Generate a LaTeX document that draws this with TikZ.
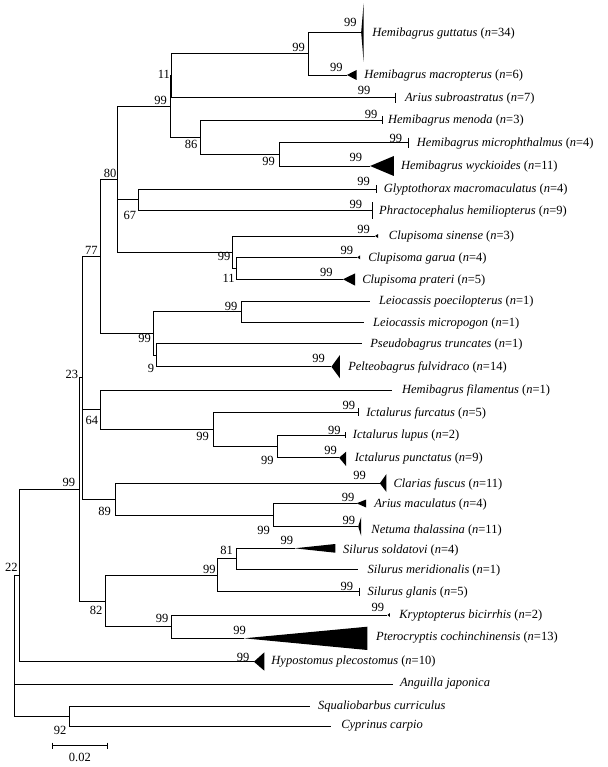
\documentclass[tikz,border=0pt]{standalone}
\usepackage{fontspec}
\setmainfont{Liberation Serif}
\begin{document}
\begin{tikzpicture}[x=0.9922pt,y=-1pt,
  br/.style={line width=0.8pt},
  sp/.style={anchor=west, inner sep=0pt, font=\fontsize{12.5}{13}\selectfont},
  bs/.style={inner sep=0pt, font=\fontsize{12.5}{13}\selectfont}]
\useasboundingbox (0pt,0pt) rectangle (607pt,-767pt);
% internal nodes
\coordinate (A) at (310.5,53.7);
\coordinate (B) at (173,75.7);
\coordinate (C) at (172,106.5);
\coordinate (E) at (202,137.2);
\coordinate (F) at (282,154.3);
\coordinate (G) at (139.5,199.8);
\coordinate (J) at (238.3,268.3);
\coordinate (I) at (234.4,252.2);
\coordinate (D) at (118.4,179.3);
\coordinate (L) at (243.4,311.8);
\coordinate (M) at (157.4,355);
\coordinate (K) at (155.1,333.4);
\coordinate (H) at (101.6,256.4);
\coordinate (W) at (279.3,446.3);
\coordinate (V) at (214.8,429.3);
\coordinate (O) at (101.6,409.7);
\coordinate (X) at (275.4,515.2);
\coordinate (R) at (116,499.2);
\coordinate (N) at (83.2,377.8);
\coordinate (Z) at (238.3,558.8);
\coordinate (Y) at (219.5,575.3);
\coordinate (AA) at (172.7,626.7);
\coordinate (Q) at (106.2,601);
\coordinate (P) at (80,489.4);
\coordinate (U) at (19.5,575.5);
\coordinate (S) at (69.5,716);
\coordinate (T) at (15,645.8);
% leaf ends
\coordinate (l1) at (364,32.3);
\coordinate (l2) at (349.5,75);
\coordinate (l3) at (398,97.7);
\coordinate (l4) at (385,120);
\coordinate (l5) at (412,142.7);
\coordinate (l6) at (373,166);
\coordinate (l7) at (379.7,189);
\coordinate (l8) at (375,210.7);
\coordinate (l9) at (378,236);
\coordinate (l10) at (360,257.3);
\coordinate (l11) at (345.7,279.3);
\coordinate (l12) at (373,301);
\coordinate (l13) at (367,322.7);
\coordinate (l14) at (365,343.3);
\coordinate (l15) at (334,366.7);
\coordinate (l16) at (395,390);
\coordinate (l17) at (361.3,412.3);
\coordinate (l18) at (347.7,435);
\coordinate (l19) at (341.8,457.7);
\coordinate (l20) at (382.8,483.3);
\coordinate (l21) at (359.4,503.3);
\coordinate (l22) at (361,526.5);
\coordinate (l23) at (296.9,548.3);
\coordinate (l24) at (361.3,569.3);
\coordinate (l25) at (362.5,591.7);
\coordinate (l26) at (390.5,615);
\coordinate (l27) at (246,638.3);
\coordinate (l28) at (255.9,661.7);
\coordinate (l29) at (396.5,684);
\coordinate (l30) at (312.5,706);
\coordinate (l31) at (334,726);
% branches
\draw[br] (A) |- (l1); \draw[br] (A) |- (l2);
\draw[br] (B) |- (A); \draw[br] (B) |- (l3);
\draw[br] (C) |- (B); \draw[br] (C) |- (E);
\draw[br] (E) |- (l4); \draw[br] (E) |- (F);
\draw[br] (F) |- (l5); \draw[br] (F) |- (l6);
\draw[br] (G) |- (l7); \draw[br] (G) |- (l8);
\draw[br] (J) |- (l10); \draw[br] (J) |- (l11);
\draw[br] (I) |- (l9); \draw[br] (I) |- (J);
\draw[br] (D) |- (C); \draw[br] (D) |- (G); \draw[br] (D) |- (I);
\draw[br] (L) |- (l12); \draw[br] (L) |- (l13);
\draw[br] (M) |- (l14); \draw[br] (M) |- (l15);
\draw[br] (K) |- (L); \draw[br] (K) |- (M);
\draw[br] (H) |- (D); \draw[br] (H) |- (K);
\draw[br] (W) |- (l18); \draw[br] (W) |- (l19);
\draw[br] (V) |- (l17); \draw[br] (V) |- (W);
\draw[br] (O) |- (l16); \draw[br] (O) |- (V);
\draw[br] (X) |- (l21); \draw[br] (X) |- (l22);
\draw[br] (R) |- (l20); \draw[br] (R) |- (X);
\draw[br] (N) |- (H); \draw[br] (N) |- (O); \draw[br] (N) |- (R);
\draw[br] (Z) |- (l23); \draw[br] (Z) |- (l24);
\draw[br] (Y) |- (Z); \draw[br] (Y) |- (l25);
\draw[br] (AA) |- (l26); \draw[br] (AA) |- (l27);
\draw[br] (Q) |- (Y); \draw[br] (Q) |- (AA);
\draw[br] (P) |- (N); \draw[br] (P) |- (Q);
\draw[br] (U) |- (P); \draw[br] (U) |- (l28);
\draw[br] (S) |- (l30); \draw[br] (S) |- (l31);
\draw[br] (T) |- (U); \draw[br] (T) |- (l29); \draw[br] (T) |- (S);
% collapsed clades (triangles)
\fill (l1) -- (366.5,3.3) -- (366.5,62) -- cycle;
\fill (l2) -- (359.5,70) -- (359.5,80) -- cycle;
\fill (l6) -- (397,156) -- (397,176) -- cycle;
\fill (l9) -- (381,234) -- (381,238) -- cycle;
\fill (l10) -- (363,255.3) -- (363,259.3) -- cycle;
\fill (l11) -- (358,273.3) -- (358,285.7) -- cycle;
\fill (l15) -- (342.6,355) -- (342.6,378.3) -- cycle;
\fill (l19) -- (348.8,451.7) -- (348.8,466) -- cycle;
\fill (l20) -- (389.5,474) -- (389.5,492) -- cycle;
\fill (l21) -- (369,499.5) -- (369,507.5) -- cycle;
\fill (l22) -- (364,517) -- (364,536) -- cycle;
\fill (l23) -- (337.9,544) -- (337.9,552.7) -- cycle;
\fill (l26) -- (393,613) -- (393,617) -- cycle;
\fill (l27) -- (370.3,626.7) -- (370.3,650) -- cycle;
\fill (l28) -- (266.4,652.3) -- (266.4,670.7) -- cycle;
% ticks
\draw[br] ([yshift=5pt]l3) -- ([yshift=-5pt]l3);
\draw[br] ([yshift=4pt]l4) -- ([yshift=-4pt]l4);
\draw[br] ([yshift=5pt]l5) -- ([yshift=-5pt]l5);
\draw[br] ([yshift=4pt]l7) -- ([yshift=-4pt]l7);
\draw[br] ([yshift=8.5pt]l8) -- ([yshift=-8.5pt]l8);
\draw[br] ([yshift=4pt]l17) -- ([yshift=-4pt]l17);
\draw[br] ([yshift=3pt]l18) -- ([yshift=-3pt]l18);
\draw[br] ([yshift=4pt]l25) -- ([yshift=-4pt]l25);
% taxon names
\node[sp] (t1) at (375,33) {\textit{Hemibagrus guttatus} (\textit{n}=34)};
\node[sp] (t2) at (367,75.5) {\textit{Hemibagrus macropterus} (\textit{n}=6)};
\node[sp] (t3) at (408,98) {\textit{Arius subroastratus} (\textit{n}=7)};
\node[sp] (t4) at (391,120.5) {\textit{Hemibagrus menoda} (\textit{n}=3)};
\node[sp] (t5) at (420,143) {\textit{Hemibagrus microphthalmus} (\textit{n}=4)};
\node[sp] (t6) at (404,166.5) {\textit{Hemibagrus wyckioides} (\textit{n}=11)};
\node[sp] (t7) at (386.7,189.5) {\textit{Glyptothorax macromaculatus} (\textit{n}=4)};
\node[sp] (t8) at (382,211.5) {\textit{Phractocephalus hemiliopterus} (\textit{n}=9)};
\node[sp] (t9) at (391.8,236.5) {\textit{Clupisoma sinense} (\textit{n}=3)};
\node[sp] (t10) at (371,258) {\textit{Clupisoma garua} (\textit{n}=4)};
\node[sp] (t11) at (365,280) {\textit{Clupisoma prateri} (\textit{n}=5)};
\node[sp] (t12) at (382,301.5) {\textit{Leiocassis poecilopterus} (\textit{n}=1)};
\node[sp] (t13) at (375.8,323.5) {\textit{Leiocassis micropogon} (\textit{n}=1)};
\node[sp] (t14) at (373,344) {\textit{Pseudobagrus truncates} (\textit{n}=1)};
\node[sp] (t15) at (350.8,367.5) {\textit{Pelteobagrus fulvidraco} (\textit{n}=14)};
\node[sp] (t16) at (405,390.5) {\textit{Hemibagrus filamentus} (\textit{n}=1)};
\node[sp] (t17) at (369,413) {\textit{Ictalurus furcatus} (\textit{n}=5)};
\node[sp] (t18) at (355.5,435.5) {\textit{Ictalurus lupus} (\textit{n}=2)};
\node[sp] (t19) at (357.4,458.5) {\textit{Ictalurus punctatus} (\textit{n}=9)};
\node[sp] (t20) at (396.5,484) {\textit{Clarias fuscus} (\textit{n}=11)};
\node[sp] (t21) at (377,504) {\textit{Arius maculatus} (\textit{n}=4)};
\node[sp] (t22) at (374.2,530) {\textit{Netuma thalassina} (\textit{n}=11)};
\node[sp] (t23) at (345.7,550.5) {\textit{Silurus soldatovi} (\textit{n}=4)};
\node[sp] (t24) at (370.3,570) {\textit{Silurus meridionalis} (\textit{n}=1)};
\node[sp] (t25) at (370.3,592) {\textit{Silurus glanis} (\textit{n}=5)};
\node[sp] (t26) at (402.3,615.5) {\textit{Kryptopterus bicirrhis} (\textit{n}=2)};
\node[sp] (t27) at (378.9,637.5) {\textit{Pterocryptis cochinchinensis} (\textit{n}=13)};
\node[sp] (t28) at (273.4,662) {\textit{Hypostomus plecostomus} (\textit{n}=10)};
\node[sp] (t29) at (403,683.5) {\textit{Anguilla japonica}};
\node[sp] (t30) at (320.3,706) {\textit{Squaliobarbus curriculus}};
\node[sp] (t31) at (343.75,726) {\textit{Cyprinus carpio}};
% bootstrap values
\node[bs] (b1) at (353,22) {99};
\node[bs] (bA) at (301,47.5) {99};
\node[bs] (b2) at (339,67.7) {99};
\node[bs,anchor=east] (bB) at (171.5,74) {11};
\node[bs] (b3) at (367,90.7) {99};
\node[bs] (bC) at (162,100) {99};
\node[bs] (b4) at (374,114) {99};
\node[bs] (bE) at (192.5,144) {86};
\node[bs] (b5) at (399,138.3) {99};
\node[bs] (bF) at (270.7,161) {99};
\node[bs] (b6) at (358.6,157.7) {99};
\node[bs] (bD) at (111,173.3) {80};
\node[bs] (b7) at (366.4,181) {99};
\node[bs] (bG) at (131,215) {67};
\node[bs] (b8) at (358.6,204.3) {99};
\node[bs] (b9) at (366.4,229) {99};
\node[bs] (bI) at (225.8,256.7) {99};
\node[bs] (bH) at (92,250.7) {77};
\node[bs] (b10) at (349.6,250) {99};
\node[bs] (bJ) at (230.5,278.3) {11};
\node[bs] (b11) at (329,272.3) {99};
\node[bs] (bL) at (233,306) {99};
\node[bs] (bK) at (145.7,338.3) {99};
\node[bs] (bM) at (152.3,368.3) {9};
\node[bs] (b15) at (321,358.3) {99};
\node[bs,anchor=east] (bN) at (79,374) {23};
\node[bs] (bO) at (92.6,420.7) {64};
\node[bs] (b17) at (351.6,405) {99};
\node[bs] (bV) at (204.3,436) {99};
\node[bs] (b18) at (337,430) {99};
\node[bs] (bW) at (269.5,460) {99};
\node[bs] (b19) at (333.2,450.7) {99};
\node[bs] (b20) at (362.5,475) {99};
\node[bs] (bP) at (69.5,482.7) {99};
\node[bs] (bR) at (105.5,511.7) {89};
\node[bs] (b21) at (350.8,497.3) {99};
\node[bs] (b22) at (351.6,520) {99};
\node[bs] (bX) at (265.6,530) {99};
\node[bs] (bZ) at (228.5,550) {81};
\node[bs] (b23) at (289,540) {99};
\node[bs] (bY) at (211,569.3) {99};
\node[bs] (b25) at (349.6,586) {99};
\node[bs] (bT) at (11.5,567) {22};
\node[bs] (bQ) at (96.9,610.7) {82};
\node[bs] (bAA) at (163.3,618.3) {99};
\node[bs] (b26) at (380.9,607.3) {99};
\node[bs] (b27) at (241.4,630.7) {99};
\node[bs] (b28) at (245,657.3) {99};
\node[bs] (bS) at (60.5,730.7) {92};
% scale bar
\coordinate (sb1) at (52.7,745.7);
\coordinate (sb2) at (108.2,745.7);
\draw[br] (sb1) -- (sb2);
\draw[br] ([yshift=3pt]sb1) -- ([yshift=-3pt]sb1);
\draw[br] ([yshift=3pt]sb2) -- ([yshift=-3pt]sb2);
\node[bs] (sbl) at (80.5,757) {0.02};
\end{tikzpicture}
\end{document}
